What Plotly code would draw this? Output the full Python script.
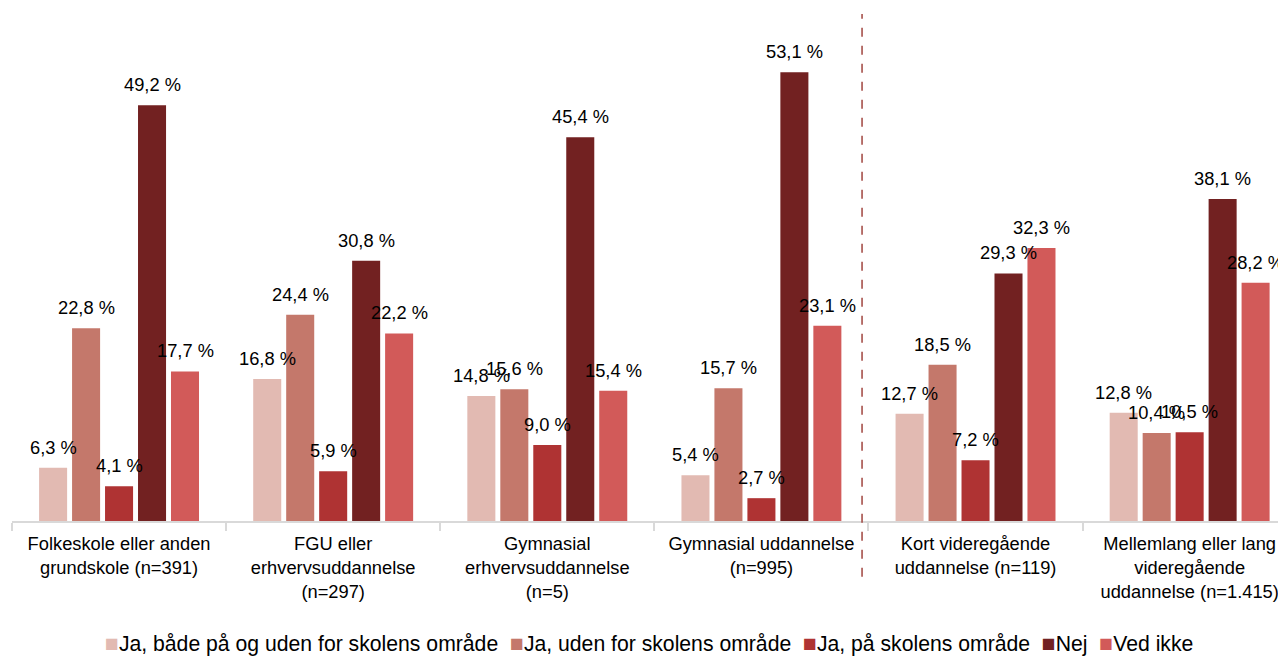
import plotly.graph_objects as go

categories = [
    "Folkeskole eller anden<br>grundskole (n=391)",
    "FGU eller<br>erhvervsuddannelse<br>(n=297)",
    "Gymnasial<br>erhvervsuddannelse<br>(n=5)",
    "Gymnasial uddannelse<br>(n=995)",
    "Kort videregående<br>uddannelse (n=119)",
    "Mellemlang eller lang<br>videregående<br>uddannelse (n=1.415)",
]
series_names = [
    "Ja, både på og uden for skolens område",
    "Ja, uden for skolens område",
    "Ja, på skolens område",
    "Nej",
    "Ved ikke",
]
ja_begge = [6.3, 16.8, 14.8, 5.4, 12.7, 12.8]
ja_uden = [22.8, 24.4, 15.6, 15.7, 18.5, 10.4]
ja_paa = [4.1, 5.9, 9.0, 2.7, 7.2, 10.5]
nej = [49.2, 30.8, 45.4, 53.1, 29.3, 38.1]
ved_ikke = [17.7, 22.2, 15.4, 23.1, 32.3, 28.2]
series_values = [ja_begge, ja_uden, ja_paa, nej, ved_ikke]
colors = ["#E2BAB2", "#C4786B", "#AF3333", "#722121", "#D25A59"]

FONT = "Liberation Sans, Arial, sans-serif"
BARGAP = 0.23
n_series = len(series_values)
slot = (1 - BARGAP) / n_series

def fmt(v):
    return f"{v:.1f} %".replace(".", ",")

fig = go.Figure()
for name, vals, col in zip(series_names, series_values, colors):
    fig.add_trace(go.Bar(
        x=categories, y=vals, name=name,
        marker=dict(color=col, line=dict(width=0)),
        hoverinfo="skip", showlegend=False,
    ))

annotations = []
for j, vals in enumerate(series_values):
    for i, v in enumerate(vals):
        annotations.append(dict(
            x=i + (j - (n_series - 1) / 2) * slot, y=v, xref="x", yref="y",
            text=fmt(v), showarrow=False, yanchor="bottom", xanchor="center",
            yshift=8, font=dict(family=FONT, size=18.3, color="#000000"),
        ))

# compact legend line (colored squares + series names) as real text
legend_text = " &nbsp;".join(
    f"<span style='color:{c};font-size:23px'>■</span>{n}" for n, c in zip(series_names, colors)
)
annotations.append(dict(
    x=0.5, y=-0.2406, xref="paper", yref="paper", xanchor="center", yanchor="middle",
    text=legend_text, showarrow=False,
    font=dict(family=FONT, size=21.2, color="#000000"),
))

# page body has an 8px default margin; figure is sized to fill the rest
fig.update_layout(
    width=1278, height=648,
    margin=dict(l=4, r=0, t=6, b=135, autoexpand=False),
    paper_bgcolor="white", plot_bgcolor="white",
    barmode="group", bargap=BARGAP, bargroupgap=0.15,
    font=dict(family=FONT, size=18.3, color="#000000"),
    showlegend=False,
    annotations=annotations,
    shapes=[dict(type="line", xref="x", yref="paper", x0=3.47, x1=3.47, y0=-0.11, y1=1.0,
                 line=dict(color="#A0453F", width=1.5, dash="dash"))],
)
fig.update_xaxes(
    type="category", range=[-0.5, 5.45], automargin=False,
    showline=True, linecolor="#D9D9D9", linewidth=2,
    ticks="outside", tickson="boundaries", ticklen=8, tickcolor="#D9D9D9", tickwidth=1.5,
    ticklabelstandoff=5,
    showgrid=False, tickfont=dict(family=FONT, size=18.3, color="#000000"),
)
fig.update_yaxes(range=[0, 60], visible=False, showgrid=False, automargin=False)

fig.write_html("out.html")
